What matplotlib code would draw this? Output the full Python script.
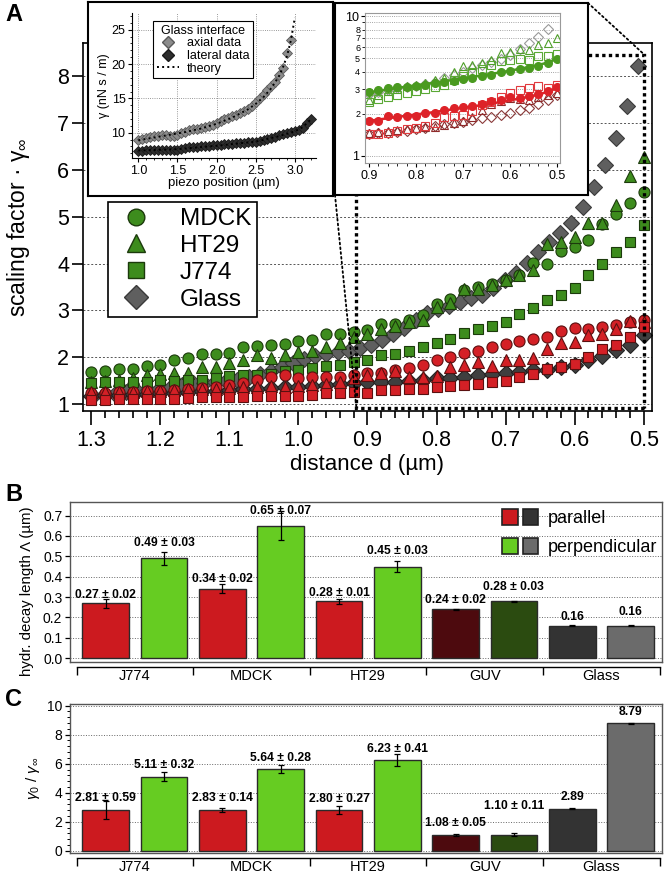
import numpy as np
import matplotlib
matplotlib.use('Agg')
import matplotlib.pyplot as plt
from matplotlib.lines import Line2D
from matplotlib.patches import Rectangle, Patch, ConnectionPatch
from matplotlib.legend_handler import HandlerTuple
from matplotlib.ticker import MultipleLocator, FuncFormatter, FixedLocator

plt.rcParams['font.family'] = ['Liberation Sans', 'DejaVu Sans']
plt.rcParams['mathtext.fontset'] = 'custom'
plt.rcParams['mathtext.rm'] = 'Liberation Sans'
plt.rcParams['mathtext.it'] = 'Liberation Sans:italic'
plt.rcParams['mathtext.bf'] = 'Liberation Sans:bold'

# ---------------- panel A data ----------------
distance = np.round(np.arange(1.30, 0.49, -0.02), 2)   # 41 points, 1.30 -> 0.50

mdck_perp = [1.68, 1.71, 1.74, 1.75, 1.82, 1.84, 1.94, 1.98, 2.06, 2.06, 2.09,
             2.21, 2.24, 2.27, 2.29, 2.34, 2.37, 2.50, 2.50, 2.54, 2.59, 2.70,
             2.71, 2.79, 2.91, 3.13, 3.25, 3.43, 3.49, 3.57, 3.64, 3.75, 4.01,
             3.99, 4.27, 4.35, 4.50, 4.84, 5.06, 5.29, 5.53]
ht29_perp = [1.48, 1.50, 1.52, 1.55, 1.62, 1.64, 1.66, 1.66, 1.79, 1.79, 1.87,
             1.93, 2.04, 1.99, 2.04, 2.11, 2.13, 2.21, 2.30, 2.43, 2.50, 2.61,
             2.66, 2.75, 2.79, 3.07, 3.16, 3.46, 3.46, 3.54, 3.65, 3.75, 3.86,
             4.42, 4.47, 4.57, 4.87, 4.87, 5.25, 5.86, 6.28]
j774_perp = [1.44, 1.46, 1.46, 1.46, 1.48, 1.51, 1.50, 1.52, 1.52, 1.55, 1.60,
             1.62, 1.62, 1.65, 1.70, 1.73, 1.76, 1.82, 1.84, 1.90, 1.93, 2.05,
             2.07, 2.14, 2.22, 2.31, 2.38, 2.51, 2.60, 2.67, 2.76, 2.92, 3.04,
             3.22, 3.33, 3.47, 3.76, 3.99, 4.24, 4.45, 4.82]
mdck_par = [1.24, 1.24, 1.25, 1.26, 1.28, 1.28, 1.30, 1.33, 1.35, 1.37, 1.40,
            1.45, 1.52, 1.58, 1.62, 1.56, 1.57, 1.57, 1.57, 1.62, 1.66, 1.66,
            1.73, 1.76, 1.84, 1.93, 2.00, 2.08, 2.14, 2.21, 2.28, 2.35, 2.38,
            2.43, 2.56, 2.62, 2.61, 2.64, 2.69, 2.75, 2.80]
ht29_par = [1.25, 1.25, 1.26, 1.26, 1.27, 1.28, 1.30, 1.31, 1.32, 1.33, 1.34,
            1.36, 1.37, 1.38, 1.37, 1.39, 1.40, 1.42, 1.46, 1.55, 1.62, 1.67,
            1.70, 1.58, 1.57, 1.60, 1.78, 1.83, 1.90, 1.82, 1.94, 1.94, 1.98,
            2.17, 2.30, 2.32, 2.47, 2.50, 2.61, 2.77, 2.75]
j774_par = [1.08, 1.09, 1.10, 1.10, 1.11, 1.11, 1.11, 1.12, 1.14, 1.14, 1.15,
            1.15, 1.17, 1.17, 1.17, 1.17, 1.19, 1.23, 1.24, 1.26, 1.24, 1.30,
            1.30, 1.31, 1.31, 1.36, 1.38, 1.41, 1.43, 1.48, 1.50, 1.57, 1.64,
            1.74, 1.80, 1.85, 2.00, 2.17, 2.26, 2.42, 2.65]
glass_par = [1.18, 1.19, 1.20, 1.21, 1.22, 1.23, 1.24, 1.25, 1.27, 1.28, 1.30,
             1.31, 1.33, 1.34, 1.36, 1.37, 1.38, 1.40, 1.42, 1.44, 1.46, 1.48,
             1.48, 1.50, 1.51, 1.55, 1.55, 1.58, 1.62, 1.65, 1.67, 1.69, 1.73,
             1.73, 1.78, 1.83, 1.94, 2.03, 2.15, 2.26, 2.47]
glass_x = np.linspace(1.298, 0.508, 50)
glass_perp = [1.18, 1.20, 1.22, 1.25, 1.27, 1.30, 1.33, 1.36, 1.40, 1.45,
              1.45, 1.46, 1.50, 1.52, 1.58, 1.63, 1.70, 1.78, 1.87, 1.95,
              2.03, 2.07, 2.10, 2.14, 2.20, 2.27, 2.36, 2.50, 2.63, 2.80,
              2.95, 3.02, 3.10, 3.18, 3.26, 3.33, 3.47, 3.65, 3.80, 4.02,
              4.25, 4.47, 4.66, 4.87, 5.20, 5.63, 6.11, 6.69, 7.37, 8.21]

legend_names = ['MDCK', 'HT29', 'J774', 'Glass']

# zoomed region shown in the right inset
zoom_x = (0.916, 0.499)
zoom_y = (0.91, 8.46)

# ---------------- left inset data ----------------
piezo_axial = np.round(np.arange(1.00, 2.951, 0.05), 2)
gamma_axial = [8.95, 9.05, 9.25, 9.35, 9.50, 9.55, 9.65, 9.65, 9.55, 9.45,
               9.60, 9.90, 10.15, 10.35, 10.50, 10.60, 10.70, 10.85, 10.95, 11.15,
               11.35, 11.65, 11.95, 12.20, 12.40, 12.55, 12.80, 13.10, 13.50, 13.95,
               14.50, 15.05, 15.60, 16.20, 16.80, 17.40, 18.40, 19.50, 21.60, 23.50]
piezo_lateral = np.round(np.arange(1.00, 3.201, 0.05), 2)
gamma_lateral = [7.40, 7.40, 7.45, 7.45, 7.50, 7.50, 7.50, 7.50, 7.45, 7.50,
                 7.55, 7.65, 7.80, 7.85, 7.90, 7.95, 8.00, 8.05, 8.10, 8.15,
                 8.20, 8.25, 8.30, 8.35, 8.40, 8.45, 8.50, 8.55, 8.60, 8.65,
                 8.70, 8.80, 8.90, 9.05, 9.20, 9.40, 9.60, 9.80, 10.00, 10.10,
                 10.25, 10.45, 10.70, 11.40, 11.95]
theory_ax_x = [1.0, 1.2, 1.4, 1.6, 1.8, 2.0, 2.2, 2.4, 2.5, 2.6, 2.7, 2.8, 2.85, 2.9, 2.95, 3.0]
theory_ax_y = [8.9, 9.3, 9.7, 10.1, 10.6, 11.3, 12.2, 13.4, 14.2, 15.2, 16.5, 18.3, 19.6, 21.2, 23.5, 26.8]
theory_lat_x = [1.0, 1.5, 2.0, 2.5, 2.8, 3.0, 3.1, 3.2]
theory_lat_y = [7.4, 7.6, 8.1, 8.7, 9.5, 10.2, 10.8, 11.9]

# ---------------- right inset data (log scale) ----------------
d_zoom = np.round(np.arange(0.90, 0.499, -0.02), 2)   # 21 points
z_mdck_perp = [2.88, 2.98, 3.05, 3.12, 3.10, 3.16, 3.22, 3.30, 3.36, 3.45, 3.55,
               3.62, 3.70, 3.82, 3.95, 4.05, 4.15, 4.25, 4.42, 4.58, 4.90]
z_mdck_perp_fit = [2.85, 2.92, 2.99, 3.06, 3.13, 3.20, 3.27, 3.34, 3.42, 3.50, 3.58,
                   3.67, 3.76, 3.86, 3.96, 4.07, 4.19, 4.32, 4.47, 4.65, 4.95]
z_mdck_par = [1.79, 1.79, 1.93, 1.89, 1.93, 1.93, 2.02, 2.04, 2.13, 2.19, 2.23,
              2.28, 2.35, 2.48, 2.51, 2.62, 2.58, 2.68, 2.76, 2.93, 3.09]
z_mdck_par_fit = [1.78, 1.82, 1.86, 1.90, 1.94, 1.98, 2.02, 2.06, 2.11, 2.16, 2.21,
                  2.26, 2.31, 2.37, 2.43, 2.50, 2.57, 2.65, 2.74, 2.88, 3.05]
z_ht29_perp = [2.51, 2.73, 2.93, 2.99, 3.16, 3.21, 3.34, 3.49, 3.59, 4.00, 4.39,
               4.47, 4.59, 4.85, 5.41, 5.56, 5.78, 5.71, 6.21, 6.38, 6.93]
z_j774_perp = [2.44, 2.54, 2.62, 2.73, 2.80, 2.93, 2.99, 3.09, 3.21, 3.49, 3.73,
               4.00, 4.16, 4.47, 4.80, 4.85, 4.90, 4.85, 5.18, 5.18, 5.35]
z_glass_perp = [2.77, 2.88, 2.96, 3.04, 3.09, 3.16, 3.27, 3.40, 3.59, 3.79,
                4.00, 4.23, 4.47, 4.72, 4.90, 5.27, 5.78, 6.38, 7.04, 8.03]
z_j774_par = [1.43, 1.44, 1.47, 1.52, 1.55, 1.58, 1.64, 1.73, 1.89, 1.93, 1.96,
              2.11, 2.31, 2.44, 2.62, 2.83, 2.96, 3.04, 3.16, 3.04, 3.21]
z_ht29_par = [1.45, 1.49, 1.52, 1.53, 1.55, 1.58, 1.60, 1.62, 1.66, 1.71, 1.79,
              1.89, 2.13, 2.35, 2.48, 2.58, 2.54, 2.51, 2.65, 2.73, 2.83]
z_glass_par = [1.44, 1.45, 1.47, 1.49, 1.52, 1.55, 1.58, 1.64, 1.69, 1.73, 1.76,
               1.81, 1.86, 1.91, 1.96, 2.02, 2.13, 2.19, 2.35, 2.51, 2.73]

# ---------------- panels B and C ----------------
groups = ['J774', 'MDCK', 'HT29', 'GUV', 'Glass']
decay_len = [0.27, 0.49, 0.34, 0.65, 0.28, 0.45, 0.24, 0.28, 0.16, 0.16]
decay_err = [0.022, 0.031, 0.022, 0.072, 0.012, 0.028, 0.003, 0.003, 0.003, 0.003]
decay_txt = ['0.27 ± 0.02', '0.49 ± 0.03', '0.34 ± 0.02', '0.65 ± 0.07', '0.28 ± 0.01',
             '0.45 ± 0.03', '0.24 ± 0.02', '0.28 ± 0.03', '0.16', '0.16']
ratio = [2.81, 5.11, 2.83, 5.64, 2.80, 6.23, 1.08, 1.10, 2.89, 8.79]
ratio_err = [0.59, 0.32, 0.14, 0.28, 0.27, 0.41, 0.04, 0.11, 0.03, 0.03]
ratio_txt = ['2.81 ± 0.59', '5.11 ± 0.32', '2.83 ± 0.14', '5.64 ± 0.28', '2.80 ± 0.27',
             '6.23 ± 0.41', '1.08 ± 0.05', '1.10 ± 0.11', '2.89', '8.79']

GREEN = '#3d8c1d'
GREEN_E = '#1c3a0c'
RED = '#d42026'
RED_E = '#5a1010'

fig = plt.figure(figsize=(6.64, 8.77), dpi=100)

# ================= panel A =================
ax = fig.add_axes([83/664, 1-411/877, 569/664, 368/877])
mk = dict(ls='none', mew=0.8)
ax.plot(glass_x, glass_perp, 'D', ms=8.5, mfc='#5f5f5f', mec='#3a3a3a', **mk)
ax.plot(distance, glass_par, 'D', ms=8.5, mfc='#3f3f3f', mec='#222222', **mk)
ax.plot(distance, mdck_perp, 'o', ms=8, mfc=GREEN, mec=GREEN_E, **mk)
ax.plot(distance, ht29_perp, '^', ms=8.5, mfc=GREEN, mec=GREEN_E, **mk)
ax.plot(distance, j774_perp, 's', ms=7.5, mfc=GREEN, mec=GREEN_E, **mk)
ax.plot(distance, mdck_par, 'o', ms=8, mfc=RED, mec=RED_E, **mk)
ax.plot(distance, ht29_par, '^', ms=8.5, mfc=RED, mec=RED_E, **mk)
ax.plot(distance, j774_par, 's', ms=7.5, mfc=RED, mec=RED_E, **mk)

ax.add_patch(Rectangle((zoom_x[1], zoom_y[0]), zoom_x[0] - zoom_x[1], zoom_y[1] - zoom_y[0],
                       fill=False, ec='black', lw=2.4, ls=(0, (1, 1)), zorder=5))

ax.set_xlim(1.312, 0.488)
ax.set_ylim(0.85, 8.71)
ax.xaxis.set_major_locator(MultipleLocator(0.1))
ax.xaxis.set_minor_locator(MultipleLocator(0.02))
ax.xaxis.set_major_formatter(FuncFormatter(lambda v, p: f'{v:.1f}'))
ax.set_yticks(range(1, 9))
ax.tick_params(axis='x', which='major', length=10, width=1.2, labelsize=15.5, pad=4)
ax.tick_params(axis='x', which='minor', length=5, width=1.2)
ax.tick_params(axis='y', length=8, width=1.2, labelsize=15.5, pad=2)
for s in ax.spines.values():
    s.set_linewidth(1.2)
ax.grid(axis='y', ls=(0, (2, 2)), color='#555555', lw=0.7)
ax.set_axisbelow(True)
ax.set_xlabel('distance d (µm)', fontsize=16, labelpad=2)
ax.set_ylabel(r'scaling factor · γ$_{\infty}$', fontsize=16.5)
ax.yaxis.set_label_coords(-0.09, 0.5)

handles = [
    Line2D([], [], marker='o', ls='none', ms=12, mfc=GREEN, mec=GREEN_E),
    Line2D([], [], marker='^', ls='none', ms=13, mfc=GREEN, mec=GREEN_E),
    Line2D([], [], marker='s', ls='none', ms=11, mfc=GREEN, mec=GREEN_E),
    Line2D([], [], marker='D', ls='none', ms=12, mfc='#5f5f5f', mec='#3a3a3a'),
]
leg = ax.legend(handles, legend_names, loc='upper left', bbox_to_anchor=(0.044, 0.568),
                fontsize=17.5, frameon=True, fancybox=False, edgecolor='black',
                framealpha=1, borderpad=0.25, labelspacing=0.2, handletextpad=0.9,
                handlelength=1.8, borderaxespad=0)
leg.get_frame().set_linewidth(1.2)

fig.text(0.008, 0.997, 'A', fontsize=17, fontweight='bold', va='top')

# ---- left inset ----
lb = fig.add_axes([88/664, 1-196/877, 245/664, 194/877])
lb.set_xticks([])
lb.set_yticks([])
for s in lb.spines.values():
    s.set_linewidth(1.5)

li = fig.add_axes([131.7/664, 1-158.3/877, 184.3/664, 145/877])
li.plot(piezo_axial, gamma_axial, 'D', ls='none', ms=5.5, mfc='#8c8c8c', mec='#5a5a5a', mew=0.6)
li.plot(piezo_lateral, gamma_lateral, 'D', ls='none', ms=5.5, mfc='#2e2e2e', mec='#1a1a1a', mew=0.6)
li.plot(theory_ax_x, theory_ax_y, ls=':', color='black', lw=1.4)
li.plot(theory_lat_x, theory_lat_y, ls=':', color='black', lw=1.4)
li.set_xlim(0.915, 3.27)
li.set_ylim(6.27, 27.4)
li.xaxis.set_major_locator(FixedLocator([1.0, 1.5, 2.0, 2.5, 3.0]))
li.xaxis.set_minor_locator(MultipleLocator(0.1))
li.xaxis.set_major_formatter(FuncFormatter(lambda v, p: f'{v:.1f}'))
li.yaxis.set_major_locator(FixedLocator([10, 15, 20, 25]))
li.yaxis.set_minor_locator(MultipleLocator(1))
li.tick_params(which='major', length=3, width=0.8, labelsize=9, pad=1.5)
li.tick_params(which='minor', length=1.5, width=0.6)
li.spines['top'].set_visible(False)
li.spines['right'].set_visible(False)
li.grid(which='major', ls=':', color='#777777', lw=0.6)
li.set_axisbelow(True)
li.set_xlabel('piezo position (µm)', fontsize=9.5, labelpad=0)
li.set_ylabel('γ (nN s / m)', fontsize=9, labelpad=1)
lh = [Line2D([], [], marker='D', ls='none', ms=6, mfc='#8c8c8c', mec='#5a5a5a'),
      Line2D([], [], marker='D', ls='none', ms=6, mfc='#2e2e2e', mec='#1a1a1a'),
      Line2D([], [], ls=':', color='black', lw=1.4)]
lleg = li.legend(lh, ['axial data', 'lateral data', 'theory'], title='Glass interface',
                 loc='upper left', bbox_to_anchor=(0.116, 0.947), fontsize=9,
                 title_fontsize=9, fancybox=False, edgecolor='black', framealpha=1,
                 borderpad=0.3, labelspacing=0.05, handlelength=1.8, handletextpad=0.6,
                 borderaxespad=0)
lleg.get_frame().set_linewidth(0.8)

# ---- right inset ----
rb = fig.add_axes([335/664, 1-195/877, 253/664, 192/877])
rb.set_xticks([])
rb.set_yticks([])
for s in rb.spines.values():
    s.set_linewidth(1.5)

ri = fig.add_axes([365/664, 1-162.7/877, 195/664, 150/877])
ri.set_yscale('log')
om = dict(ls='none', ms=5.5, mfc='none', mew=0.8)
ri.plot(d_zoom[:20], z_glass_perp, 'D', mec='#9a9a9a', **om)
ri.plot(d_zoom, z_ht29_perp, '^', mec='#4f9f2a', **om)
ri.plot(d_zoom, z_j774_perp, 's', mec='#5aa835', **om)
ri.plot(d_zoom, z_glass_par, 'D', mec='#8a3a3a', **om)
ri.plot(d_zoom, z_ht29_par, '^', mec='#8f2a2a', **om)
ri.plot(d_zoom, z_j774_par, 's', mec='#e03a3e', **om)
ri.plot(d_zoom, z_mdck_perp_fit, color='#4a9a20', lw=1.8)
ri.plot(d_zoom, z_mdck_perp, 'o', ls='none', ms=5.5, mfc='#4a9a20', mec='#4a9a20')
ri.plot(d_zoom, z_mdck_par_fit, color='#dd2228', lw=1.8)
ri.plot(d_zoom, z_mdck_par, 'o', ls='none', ms=5.5, mfc='#dd2228', mec='#dd2228')
ri.set_xlim(0.9085, 0.494)
ri.set_ylim(0.895, 10.56)
ri.xaxis.set_major_locator(MultipleLocator(0.1))
ri.xaxis.set_minor_locator(MultipleLocator(0.02))
ri.xaxis.set_major_formatter(FuncFormatter(lambda v, p: f'{v:.1f}'))
ri.yaxis.set_major_locator(FixedLocator([1, 10]))
ri.yaxis.set_minor_locator(FixedLocator([2, 3, 4, 5, 6, 7, 8, 9]))
ri.yaxis.set_major_formatter(FuncFormatter(lambda v, p: f'{v:g}'))
ri.yaxis.set_minor_formatter(FuncFormatter(lambda v, p: '' if round(v) == 9 else f'{v:g}'))
ri.tick_params(axis='x', which='major', length=3, width=0.8, labelsize=9, pad=2)
ri.tick_params(axis='x', which='minor', length=2, width=0.6)
ri.tick_params(axis='y', which='major', length=3, width=0.8, labelsize=9, pad=1.5)
ri.tick_params(axis='y', which='minor', length=2, width=0.6, labelsize=6.5, pad=1.5)
for s in ri.spines.values():
    s.set_color('#999999')
    s.set_linewidth(0.8)
ri.grid(which='both', axis='y', ls=':', color='#888888', lw=0.6)
ri.set_axisbelow(True)

for a, b in [((0, 0), (zoom_x[0], zoom_y[0])), ((1, 1), (zoom_x[1], zoom_y[1]))]:
    con = ConnectionPatch(xyA=a, coordsA=rb.transAxes, xyB=b, coordsB=ax.transData,
                          ls=':', lw=1.3, color='black')
    fig.add_artist(con)

# ================= panels B and C =================
pos = [i + off for i in range(len(groups)) for off in (-0.25, 0.25)]
bar_colors = ['#cc1a1f', '#66cc22'] * 3 + ['#4d0a0e', '#2b4b10', '#333333', '#6b6b6b']


def bar_panel(axb, vals, errs, texts, dy, ylim):
    axb.bar(pos, vals, width=0.4, color=bar_colors, edgecolor='#2a2a2a', lw=1.0, zorder=2)
    axb.errorbar(pos, vals, yerr=errs, fmt='none', ecolor='black', elinewidth=0.9,
                 capsize=2, capthick=0.9, zorder=3)
    for x, v, e, t, o in zip(pos, vals, errs, texts, dy):
        axb.annotate(t, (x, v + e), xytext=(0, o), textcoords='offset pixels',
                     ha='center', va='center', fontsize=8.7, fontweight='bold', zorder=4)
    axb.set_xlim(-0.557, 4.52)
    axb.set_ylim(*ylim)
    for side in ['top', 'right', 'left']:
        axb.spines[side].set_color('#555555')
        axb.spines[side].set_linewidth(1.0)
    axb.plot([0, 1], [0, 0], transform=axb.transAxes, color='#555555', lw=1.0, clip_on=False)
    axb.spines['bottom'].set_position(('outward', 3.5))
    axb.spines['bottom'].set_bounds(-0.5, 4.5)
    axb.spines['bottom'].set_linewidth(1.0)
    axb.set_xticks(np.arange(-0.5, 4.6, 1.0))
    axb.set_xticklabels([])
    axb.set_xticks(range(len(groups)), minor=True)
    axb.set_xticklabels(groups, minor=True)
    axb.tick_params(axis='x', which='major', length=6, width=1.0)
    axb.tick_params(axis='x', which='minor', length=0, labelsize=10.5, pad=1.5)
    axb.tick_params(axis='y', which='both', labelsize=10, pad=2)
    axb.tick_params(axis='y', which='major', length=3.5, width=0.9)
    axb.grid(axis='y', ls=':', color='#666666', lw=0.7)
    axb.set_axisbelow(True)


axB = fig.add_axes([70/664, 1-661.7/877, 592/664, 160/877])
bar_panel(axB, decay_len, decay_err, decay_txt, [4, 9, 5, 0, 6, 9.5, 8.5, 14, 8.5, 13],
          (-0.017, 0.768))
axB.yaxis.set_major_locator(MultipleLocator(0.1))
axB.yaxis.set_major_formatter(FuncFormatter(lambda v, p: f'{v:.1f}'))
axB.set_ylabel('hydr. decay length Λ (µm)', fontsize=10.8)
axB.yaxis.set_label_coords(-0.061, 0.442)
pk = dict(ec='#222222', lw=1.2)
bh = [(Patch(fc='#cc1a1f', **pk), Patch(fc='#333333', **pk)),
      (Patch(fc='#66cc22', **pk), Patch(fc='#6b6b6b', **pk))]
axB.legend(bh, ['parallel', 'perpendicular'], handler_map={tuple: HandlerTuple(ndivide=None, pad=0.3)},
           loc='upper left', bbox_to_anchor=(0.73, 0.955), frameon=False, fontsize=13,
           handlelength=2.0, handleheight=1.0, labelspacing=0.6, handletextpad=0.5,
           borderaxespad=0, borderpad=0)
fig.text(0.008, 1-483/877, 'B', fontsize=17, fontweight='bold', va='top')

axC = fig.add_axes([70/664, 1-853/877, 592/664, 149/877])
bar_panel(axC, ratio, ratio_err, ratio_txt, [3, 7, 10, 7, 7.5, 5, 11, 27, 11.5, 10.5],
          (-0.156, 10.116))
axC.yaxis.set_major_locator(MultipleLocator(2))
axC.yaxis.set_minor_locator(MultipleLocator(0.4))
axC.tick_params(axis='y', which='minor', length=2, width=0.7)
axC.set_ylabel(r'$\gamma_0\ /\ \gamma_\infty$', fontsize=11)
axC.yaxis.set_label_coords(-0.047, 0.5)
fig.text(0.008, 1-688/877, 'C', fontsize=17, fontweight='bold', va='top')

fig.savefig('out.png', dpi=100)
